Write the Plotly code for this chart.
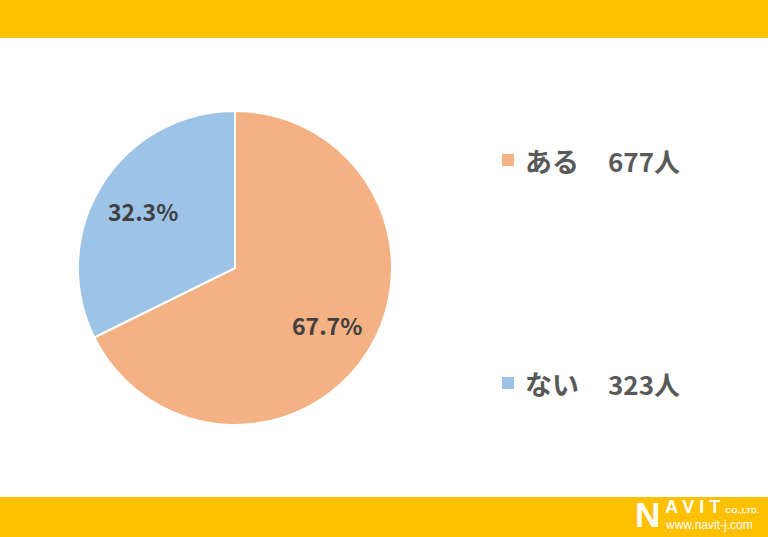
import math
import plotly.graph_objects as go

categories = ["ある", "ない"]
counts = [677, 323]
percents = [67.7, 32.3]
colors = ["#F4B183", "#9DC3E6"]

W, H = 768, 537
CX, CY, R = 235, 268, 157

fig = go.Figure()
fig.add_trace(go.Pie(
    labels=categories,
    values=counts,
    textinfo="none",
    marker=dict(colors=colors, line=dict(color="white", width=2)),
    sort=False,
    direction="clockwise",
    rotation=0,
    hole=0,
    showlegend=False,
    domain=dict(x=[(CX - R) / W, (CX + R) / W], y=[1 - (CY + R) / H, 1 - (CY - R) / H]),
    hoverinfo="label+value+percent",
))

shapes = [
    dict(type="rect", xref="paper", yref="paper", x0=0, x1=1, y0=1 - 38 / H, y1=1,
         fillcolor="#FFC000", line=dict(width=0), layer="below"),
    dict(type="rect", xref="paper", yref="paper", x0=0, x1=1, y0=0, y1=1 - 497 / H,
         fillcolor="#FFC000", line=dict(width=0), layer="below"),
]
annotations = []

# percent labels placed along each slice's mid angle
total = sum(counts)
start = 0.0
for p, cnt in zip(percents, counts):
    frac = cnt / total
    mid = (start + frac / 2) * 2 * math.pi
    start += frac
    d = 0.69 * R
    px = CX + d * math.sin(mid)
    py = CY - d * math.cos(mid)
    annotations.append(dict(xref="paper", yref="paper", x=px / W, y=1 - py / H,
                            xanchor="center", yanchor="middle", showarrow=False,
                            text=f"{p:.1f}%",
                            font=dict(family="Noto Sans CJK JP", size=23, color="#404040", weight="bold")))

legend_y = [160, 383]
for cat, cnt, col, ly in zip(categories, counts, colors, legend_y):
    shapes.append(dict(type="rect", xref="paper", yref="paper",
                       x0=502 / W, x1=514 / W, y0=1 - (ly + 6) / H, y1=1 - (ly - 6) / H,
                       fillcolor=col, line=dict(width=0)))
    annotations.append(dict(xref="paper", yref="paper", x=523 / W, y=1 - ly / H,
                            xanchor="left", yanchor="middle", showarrow=False,
                            text=cat,
                            font=dict(family="Noto Sans CJK JP", size=27, color="#595959", weight="bold")))
    annotations.append(dict(xref="paper", yref="paper", x=606 / W, y=1 - ly / H,
                            xanchor="left", yanchor="middle", showarrow=False,
                            text=f"{cnt}人",
                            font=dict(family="Noto Sans CJK JP", size=26, color="#595959", weight="bold")))

# logo
annotations.append(dict(xref="paper", yref="paper", x=633 / W, y=1 - 514 / H,
                        xanchor="left", yanchor="middle", showarrow=False,
                        text="<b>N</b>",
                        font=dict(family="Liberation Sans", size=35, color="white")))
annotations.append(dict(xref="paper", yref="paper", x=663 / W, y=1 - 507 / H,
                        xanchor="left", yanchor="middle", showarrow=False,
                        text="<b>A V I T</b> <span style='font-size:8px'><b>CO.,LTD.</b></span>",
                        font=dict(family="Liberation Sans", size=18, color="white")))
annotations.append(dict(xref="paper", yref="paper", x=663 / W, y=1 - 525 / H,
                        xanchor="left", yanchor="middle", showarrow=False,
                        text="www.navit-j.com",
                        font=dict(family="Liberation Sans", size=12, color="white")))

fig.update_layout(
    width=W, height=H,
    margin=dict(l=0, r=0, t=0, b=0),
    paper_bgcolor="white",
    plot_bgcolor="white",
    shapes=shapes,
    annotations=annotations,
)
fig.write_html("out.html", config={"displayModeBar": False},
               post_script="document.body.style.margin='0';")
